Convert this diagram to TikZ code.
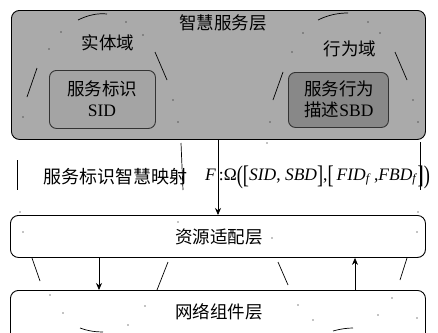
\documentclass[tikz,border=0pt]{standalone}
\usepackage{fontspec}
\setmainfont{Liberation Serif}
\newfontfamily\cjk{Noto Sans CJK SC}
\newfontfamily\tnr{Liberation Serif}
\usetikzlibrary{arrows.meta}
\definecolor{outergray}{RGB}{170,170,170}
\definecolor{sidgray}{RGB}{164,164,164}
\definecolor{sbdgray}{RGB}{136,136,136}
\newcommand{\bigbr}[1]{\raisebox{-3pt}{\scalebox{1.05}[1.45]{#1}}}
\tikzset{
  layerbox/.style={draw=black, line width=0.9pt, rounded corners=8pt},
  innerbox/.style={draw=black!80, line width=0.9pt, rounded corners=7pt},
  frag/.style={draw=black, line width=0.7pt},
  lbl/.style={font=\cjk\fontsize{17.5}{19}\selectfont, inner sep=0pt},
  arr/.style={draw=black, line width=0.8pt, -{Stealth[length=7pt,width=6pt]}},
  dot/.style={fill=black, circle, inner sep=0pt, minimum size=1.3pt}
}
\begin{document}
\begin{tikzpicture}[x=1pt,y=-1pt]
\clip (0,0) rectangle (438,332);
\fill[white] (0,0) rectangle (438,332);
% top layer
\node[layerbox, fill=outergray, minimum width=414pt, minimum height=129pt, anchor=north west] (top) at (11,10) {};
\node[lbl] (toplbl) at (223,23) {智慧服务层};
\node[innerbox, fill=sidgray, minimum width=106pt, minimum height=58pt, anchor=north west] (sid) at (49,70) {};
\node[lbl, align=center, font=\cjk\fontsize{17.5}{21}\selectfont] (sidlbl) at (102,99) {服务标识\\{\tnr SID}};
\node[innerbox, fill=sbdgray, minimum width=100pt, minimum height=55pt, anchor=north west] (sbd) at (288,72) {};
\node[lbl, align=center, font=\cjk\fontsize{17.5}{21}\selectfont] (sbdlbl) at (339,99) {服务行为\\描述{\tnr SBD}};
\node[lbl] (ent) at (108,43) {实体域};
\node[lbl] (beh) at (350,49) {行为域};
% fragments in top layer
\draw[frag] (78,20) .. controls (88,15) and (98,13) .. (107,14);
\draw[frag] (27,97) -- (37,68);
\draw[frag] (155,52) -- (167,80);
\draw[frag] (318,20) .. controls (328,15) and (338,13) .. (348,13);
\draw[frag] (273,100) -- (283,72);
\draw[frag] (395,52) -- (407,80);
% middle layer
\node[layerbox, fill=white, minimum width=415pt, minimum height=42pt, anchor=north west] (res) at (10,215) {};
\node[lbl] (reslbl) at (219,237) {资源适配层};
% bottom layer
\node[layerbox, fill=white, minimum width=415pt, minimum height=60pt, anchor=north west] (net) at (10,290) {};
\node[lbl] (netlbl) at (219,312) {网络组件层};
% mapping row
\node[lbl, font=\cjk\fontsize{18}{20}\selectfont] (map) at (115,177) {服务标识智慧映射};
\node[inner sep=0pt, font=\tnr\fontsize{17.5}{19}\selectfont, anchor=west] (formula) at (205,177)
  {\textit{F}\,:Ω\bigbr{(}\bigbr{[}\textit{SID}, \textit{SBD}\bigbr{]},\bigbr{[}\,\textit{FID}\textsubscript{\textit{f}}\,,\textit{FBD}\textsubscript{\textit{f}}\bigbr{]}\bigbr{)}};
% vertical fragments
\draw[frag] (181,143) -- (183,190);
\draw[frag] (420,142) -- (420,190);
\draw[frag] (17,160) -- (17,190);
% arrows
\coordinate (a0) at (218,139);
\draw[arr] (a0) -- (a0 |- res.north);
\coordinate (b0) at (99,257);
\draw[arr] (b0) -- (b0 |- net.north);
\coordinate (c0) at (355,290);
\draw[arr] (c0) -- (c0 |- res.south);
% fragments between lower layers
\draw[frag] (32,258) -- (40,281);
\draw[frag] (168,262) -- (157,290);
\draw[frag] (278,262) -- (288,285);
\draw[frag] (407,258) -- (400,280);
\draw[frag] (80,328) .. controls (88,331) and (96,332) .. (103,332);
\draw[frag] (333,331) .. controls (340,329) and (347,328) .. (353,328);
% dots
\foreach \p in {(61,32),(126,22),(49,49),(143,35),(173,100),(178,122),(23,117),(368,22),(303,33),(380,33),(292,52),(413,100),(418,122),(270,122),(267,143),(20,212),(418,212),(23,232),(417,232),(178,222),(272,238),(50,295),(63,313),(128,325),(145,306),(298,305),(313,320),(392,298),(378,315),(417,318)}
  \node[dot] at \p {};
\end{tikzpicture}
\end{document}
